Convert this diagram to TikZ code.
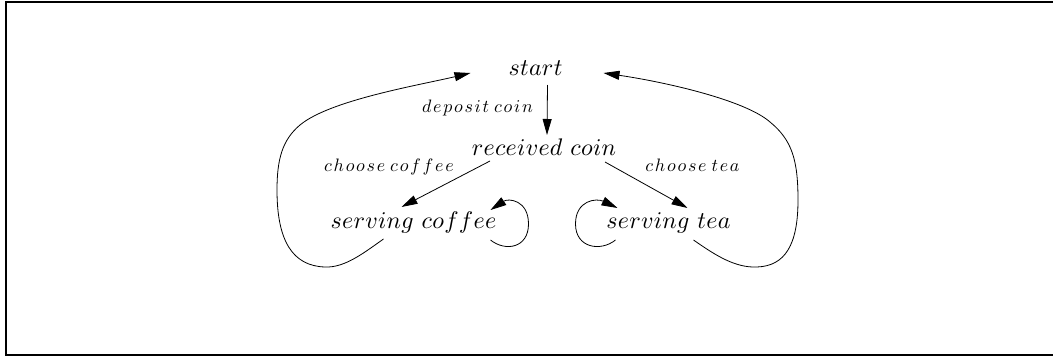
\documentclass[tikz,border=0pt]{standalone}
\usetikzlibrary{arrows.meta}
\DeclareFontShape{OML}{cmm}{m}{it}{<-> cmmi10}{}
\DeclareFontShape{OT1}{cmr}{m}{n}{<-> cmr10}{}
\DeclareFontShape{OMS}{cmsy}{m}{n}{<-> cmsy10}{}
\makeatletter
\newcommand\ls[2]{\@tfor\lsx:=#2\do{\lsx\kern#1}\kern-#1}
\makeatother
\newcommand\bigw[1]{\ls{0.3pt}{#1}}
\newcommand\smw[1]{\ls{1.75pt}{#1}}
\tikzset{
  state/.style={font=\fontsize{24}{28}\selectfont, inner sep=0pt, anchor=base},
  lbl/.style={font=\fontsize{18}{21}\selectfont, inner sep=0pt, anchor=base},
  arr/.style={line width=0.8pt, -{Triangle[length=16pt,width=9pt]}},
  frame/.style={line width=2pt},
}
\begin{document}
\begin{tikzpicture}[x=1pt,y=-1pt]
\useasboundingbox (0,0) rectangle (1053,356);
% frame (right side lies outside the picture)
\draw[frame] (1060,2) -- (6,2) -- (6,355) -- (1060,355);
% states
\node[state] (start) at (535.5,75) {$\bigw{start}$};
\node[state] (recv) at (544,155) {$\bigw{received}\kern8pt\bigw{coin}$};
\node[state] (coffee) at (413.5,228) {$\bigw{serving}\kern8pt\bigw{coffee}$};
\node[state] (tea) at (668.5,228) {$\bigw{serving}\kern8pt\bigw{tea}$};
% labels
\node[lbl] (ldep) at (477.5,112) {$\smw{deposit}\kern5pt\smw{coin}$};
\node[lbl] (lcof) at (389,171) {$\smw{choose}\kern5pt\smw{coffee}$};
\node[lbl] (ltea) at (692.5,171) {$\smw{choose}\kern5pt\smw{tea}$};
% transitions
\draw[arr] ([shift={(12,10)}]start.base) -- ([shift={(3,-20)}]recv.base);
\draw[arr] ([shift={(-54,6)}]recv.base) -- ([shift={(-12,-21)}]coffee.base);
\draw[arr] ([shift={(61,7)}]recv.base) -- ([shift={(19,-20)}]tea.base);
% self loops
\draw[arr] ([shift={(77,12)}]coffee.base)
  .. controls ([shift={(92,24)}]coffee.base) and ([shift={(115,20)}]coffee.base) .. ([shift={(115,-4)}]coffee.base)
  .. controls ([shift={(115,-28)}]coffee.base) and ([shift={(95,-30)}]coffee.base) .. ([shift={(77,-18)}]coffee.base);
\draw[arr] ([shift={(-53,12)}]tea.base)
  .. controls ([shift={(-68,24)}]tea.base) and ([shift={(-93,20)}]tea.base) .. ([shift={(-93,-4)}]tea.base)
  .. controls ([shift={(-93,-28)}]tea.base) and ([shift={(-72,-30)}]tea.base) .. ([shift={(-51,-20)}]tea.base);
% return arcs
\coordinate (lb) at (325,267);
\coordinate (ll) at (277,190);
\coordinate (lu) at (300,125);
\draw[arr] ([shift={(-30,11)}]coffee.base)
  .. controls (365,252) and (345,268) .. (lb)
  .. controls (292,266) and (277,240) .. (ll)
  .. controls (277,160) and (282,140) .. (lu)
  .. controls (330,100) and (420,85) .. ([shift={(-65,-2)}]start.base);
\coordinate (rb) at (757,267);
\coordinate (rr) at (798,200);
\coordinate (ru) at (770,122);
\draw[arr] ([shift={(25,12)}]tea.base)
  .. controls (715,255) and (735,268) .. (rb)
  .. controls (785,266) and (798,245) .. (rr)
  .. controls (798,160) and (792,140) .. (ru)
  .. controls (745,100) and (665,82) .. ([shift={(68,-2)}]start.base);
\end{tikzpicture}
\end{document}
